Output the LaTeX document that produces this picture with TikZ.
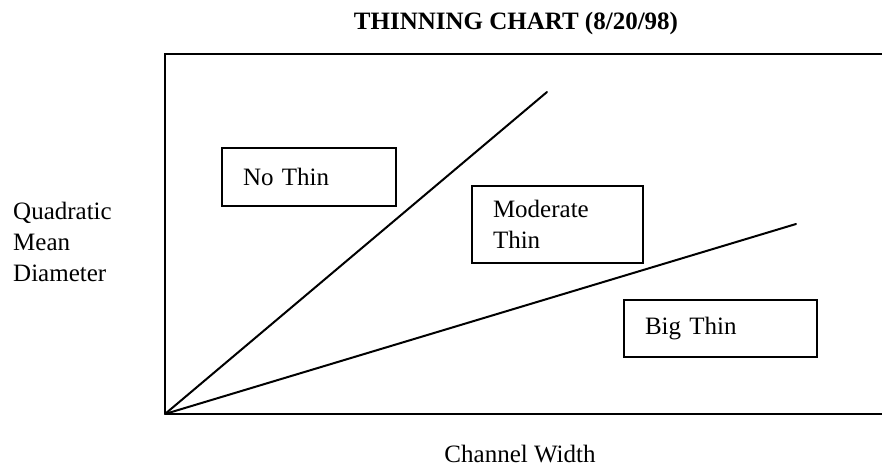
\documentclass[tikz,border=0pt]{standalone}
\usepackage{xcolor}
\usepackage{tikz}
\usepackage{fontspec}
\setmainfont{Liberation Serif}

\tikzset{
  zone/.style={draw,line width=1.2pt,inner xsep=21pt,inner ysep=0pt,align=left,
    font=\fontsize{25}{31}\selectfont},
  lbl/.style={inner sep=0pt,align=left,font=\fontsize{25}{31}\selectfont},
  split/.style={line width=2pt,line cap=round}
}

\begin{document}
\begin{tikzpicture}[x=1pt,y=-1pt]
      \useasboundingbox (0,0) rectangle (882,470);
      % frame
      \coordinate (o) at (165,414);
      \coordinate (tl) at (165,54);
      \coordinate (tr) at (882,54);
      \coordinate (br) at (882,414);
      \draw[line width=1.3pt] (tr) -- (tl) -- (o);
      \draw[line width=2.6pt] (o) -- (br);
      % dividing lines
      \coordinate (steep) at (547,92);
      \coordinate (flat) at (796,224);
      \draw[split] (o) -- (steep);
      \draw[split] (o) -- (flat);
      % zones
      \node[zone,text width=132pt,minimum height=58pt] (nothin) at (309,177) {No Thin};
      \node[zone,text width=129pt,minimum height=77pt] (modthin) at (557.5,224.5) {Moderate\\Thin};
      \node[zone,text width=151pt,minimum height=57pt] (bigthin) at (720.5,328.5) {Big Thin};
      % labels
      \node[lbl,font=\fontsize{25}{31}\selectfont\bfseries,anchor=base] (title) at (516,30) {THINNING CHART (8/20/98)};
      \node[lbl,anchor=north west] (ylbl) at (13,202) {Quadratic\\Mean\\Diameter};
      \node[lbl,anchor=base] (xlbl) at (520,462) {Channel Width};
    \end{tikzpicture}
\end{document}
